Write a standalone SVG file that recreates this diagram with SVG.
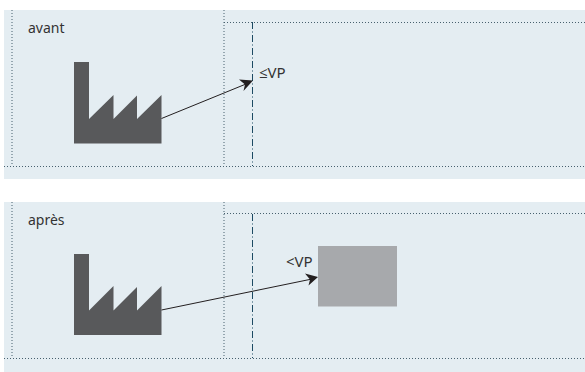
<svg xmlns="http://www.w3.org/2000/svg" width="585" height="372" viewBox="0 0 585 372">
<style>
.bg{fill:#e4edf2}
.dot{fill:none;stroke:#47606e;stroke-width:1;stroke-dasharray:1 2}
.dash{fill:none;stroke:#1c4a63;stroke-width:1;stroke-dasharray:7 2.5 1 2.5}
.fac{fill:#58595b}
.arr{fill:none;stroke:#231f20;stroke-width:1}
.hd{fill:#231f20}
text{font-family:"Noto Sans","Open Sans",sans-serif;font-size:14px;fill:#333}
.lb{font-size:15px}
</style>
<g id="panel-avant">
<rect class="bg" x="4" y="10" width="581" height="169"/>
<path class="dot" d="M12 10V166M224 10V166M224 22.500H585M4 166.500H585"/>
<path class="dash" d="M252.500 22V166"/>
<text x="28" y="33">avant</text>
</g>
<g id="factory-avant"><path class="fac" d="M74 62H89V119L113.500 95V119L137 95.500V119L161.500 95V143.500H74Z"/></g>
<g id="panel-apres">
<rect class="bg" x="4" y="202" width="581" height="170"/>
<path class="dot" d="M12 202V358M224 202V358M224 213.500H585M4 358.500H585"/>
<path class="dash" d="M252.500 214V358"/>
<text x="28" y="225">après</text>
</g>
<g id="factory-apres"><path class="fac" d="M74 254H89V310.500L113.500 286V310.500L137 287V310.500L161.500 286V335H74Z"/></g>
<g id="box"><rect x="318" y="246" width="79" height="60.500" fill="#a7a9ac"/></g>
<g id="labels">
<text class="lb" x="259" y="78">≤VP</text>
<text class="lb" x="286" y="266.500">&lt;VP</text>
</g>
<g id="connectors">
<path class="arr" d="M161.500 118.500L246 84"/>
<path class="hd" d="M253 80.500L239 79.500L245 84.500L243.500 91Z"/>
<path class="arr" d="M161.500 310L312 279"/>
<path class="hd" d="M318 277L305 273.500L310 279.500L308.500 285.500Z"/>
</g>
</svg>
